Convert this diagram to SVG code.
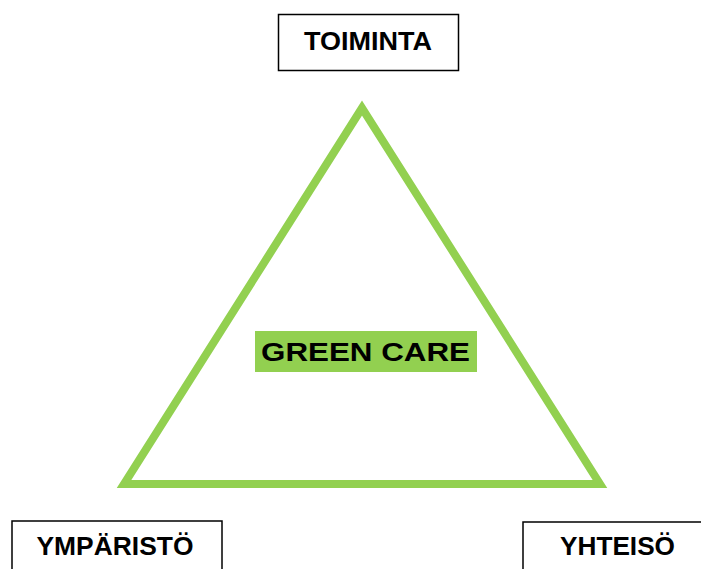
<svg xmlns="http://www.w3.org/2000/svg" width="701" height="569" viewBox="0 0 701 569">
<style>
.box{fill:#fff;stroke:#000;stroke-width:1.5}
.lbl{font-family:"Liberation Sans",Arial,sans-serif;font-weight:bold;font-size:26.5px;fill:#000;text-anchor:middle}
</style>
<rect width="701" height="569" fill="#fff"/>
<g id="connectors">
<polygon points="362,108 124,484 600,484" fill="none" stroke="#92D050" stroke-width="8" stroke-linejoin="miter" stroke-miterlimit="10"/>
</g>
<g id="toiminta">
<rect class="box" x="278.5" y="14.5" width="180" height="56"/>
<text class="lbl" x="368" y="49.5" textLength="128" lengthAdjust="spacingAndGlyphs">TOIMINTA</text>
</g>
<g id="green-care">
<rect x="255" y="331" width="222" height="41" fill="#92D050"/>
<text class="lbl" x="365.5" y="361" font-size="31" textLength="209" lengthAdjust="spacingAndGlyphs">GREEN CARE</text>
</g>
<g id="ymparisto">
<rect class="box" x="12" y="521" width="210" height="60"/>
<text class="lbl" x="115" y="555" textLength="157" lengthAdjust="spacingAndGlyphs">YMPÄRISTÖ</text>
</g>
<g id="yhteiso">
<rect class="box" x="523" y="522" width="190" height="60"/>
<text class="lbl" x="617.5" y="555" textLength="115" lengthAdjust="spacingAndGlyphs">YHTEISÖ</text>
</g>
</svg>
